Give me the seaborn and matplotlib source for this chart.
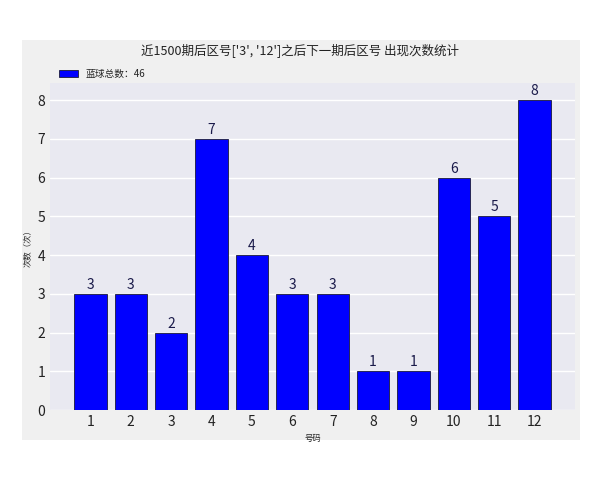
import matplotlib
matplotlib.use("Agg")
import matplotlib.pyplot as plt
import seaborn as sns
import pandas as pd
from matplotlib.patches import Rectangle

numbers = [1, 2, 3, 4, 5, 6, 7, 8, 9, 10, 11, 12]
counts = [3, 3, 2, 7, 4, 3, 3, 1, 1, 6, 5, 8]
title = "近1500期后区号['3', '12']之后下一期后区号 出现次数统计"
legend_label = "蓝球总数：46"

sns.set_theme(style="darkgrid")
plt.rcParams['font.family'] = ['Noto Sans CJK SC', 'DejaVu Sans']

df = pd.DataFrame({"号码": numbers, "次数": counts})

fig = plt.figure(figsize=(6, 4.8), dpi=100, facecolor="white")
fig.patches.append(Rectangle((22/600, 1-440/480), 558/600, 400/480,
                             transform=fig.transFigure, facecolor="#f0f0f0",
                             edgecolor="none", zorder=-10))
ax = fig.add_axes([50/600, 1-410/480, 525/600, 327/480])
ax.set_facecolor("#e9e9f1")
for s in ax.spines.values():
    s.set_visible(False)
sns.barplot(data=df, x="号码", y="次数", color="#0000ff", saturation=1,
            edgecolor="#1a1a3a", linewidth=0.6, width=0.8, ax=ax,
            label=legend_label)
for i, v in enumerate(counts):
    ax.text(i, v + 0.05, str(v), ha="center", va="bottom", fontsize=10, color="#1a1a4a")
ax.set_xlim(-1, 12)
ax.set_ylim(0, 8.44)
ax.set_yticks(range(0, 9))
ax.tick_params(labelsize=10, colors="#222222", length=0)
ax.set_xlabel("号码", fontsize=6)
ax.set_ylabel("次数（次）", fontsize=6)
ax.legend(loc="lower left", bbox_to_anchor=(0.0, 0.985), frameon=False, fontsize=7)
fig.text(0.5, 1-50/480, title, ha="center", va="center", fontsize=9, color="#222222")
fig.savefig("out.png", dpi=100)
